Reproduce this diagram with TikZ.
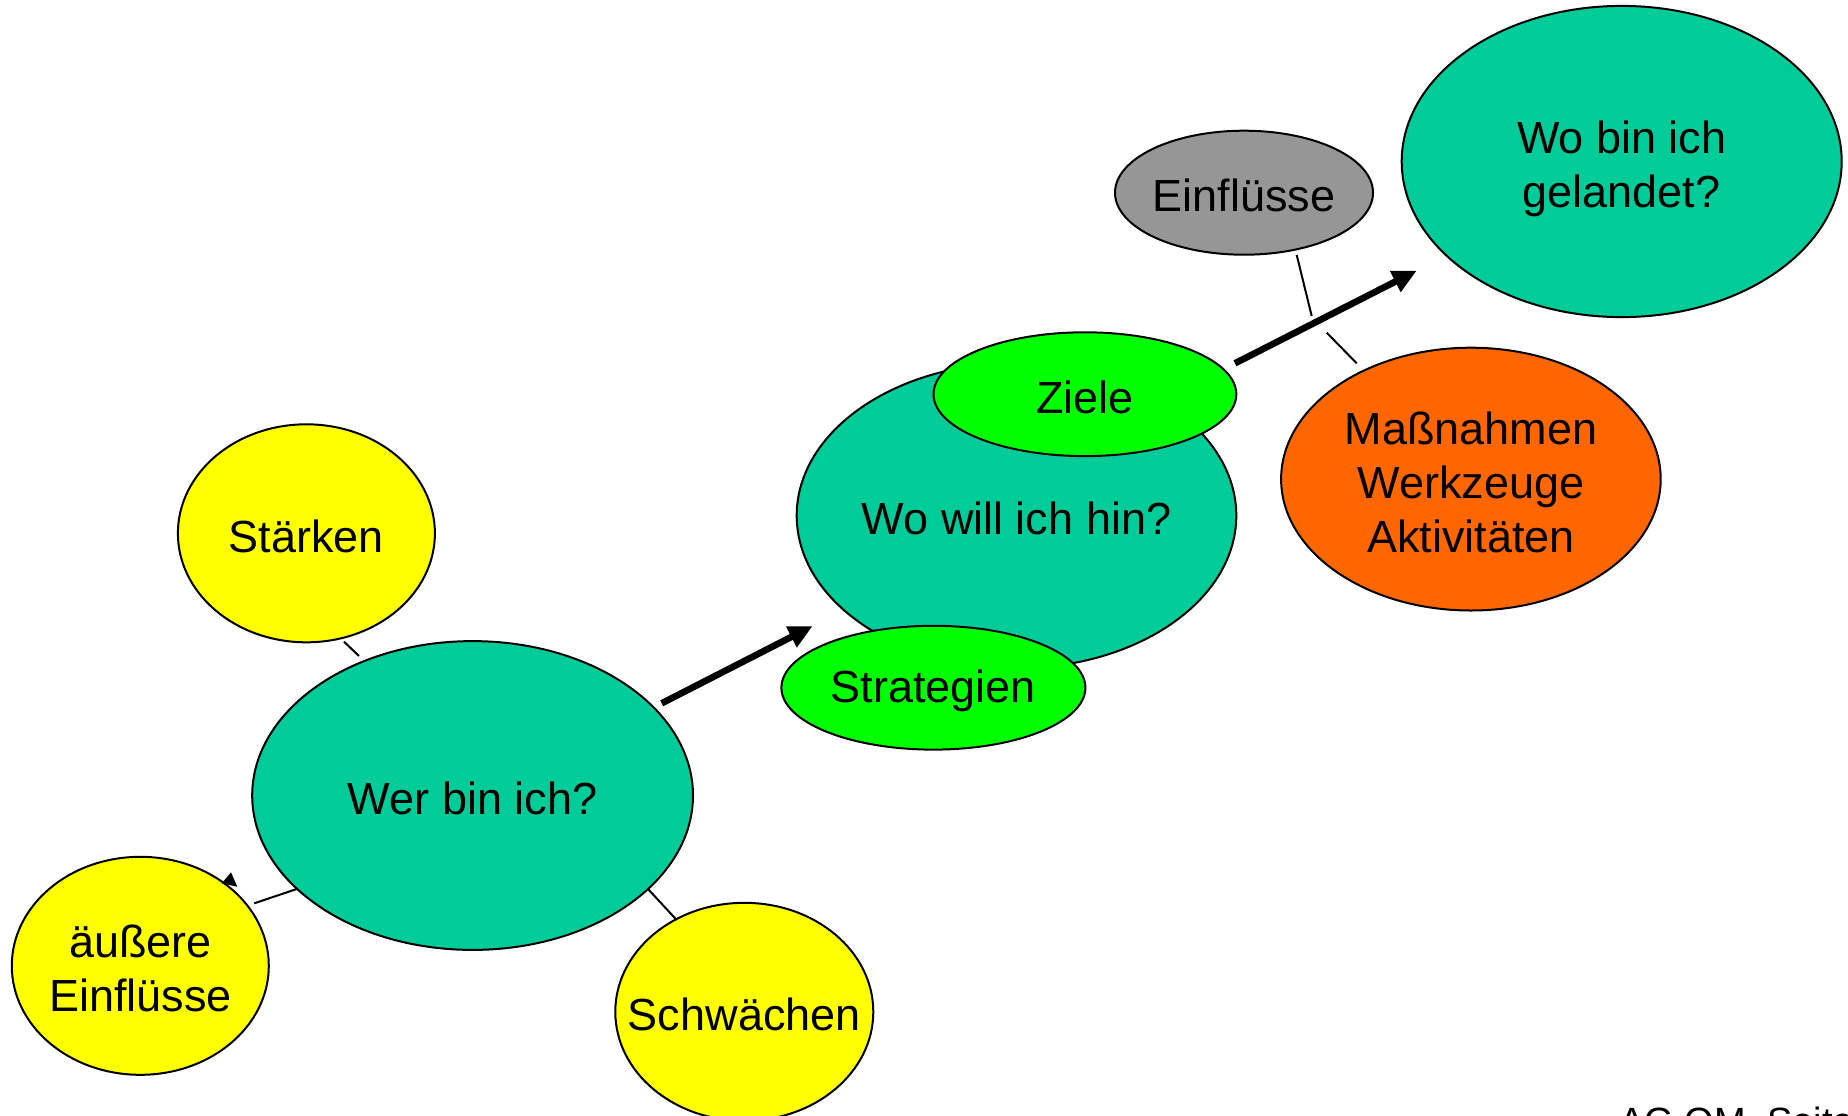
\documentclass[tikz,border=0pt]{standalone}
\usepackage{fontspec}
\setmainfont{Liberation Sans}
\usetikzlibrary{shapes.geometric,arrows.meta}
\definecolor{tealc}{RGB}{0,204,153}
\definecolor{greyc}{RGB}{150,150,150}
\definecolor{greenc}{RGB}{0,255,0}
\definecolor{orangec}{RGB}{255,102,0}
\definecolor{yellowc}{RGB}{255,255,0}
\begin{document}
\begin{tikzpicture}[x=0.5pt,y=-0.5pt,
  ell/.style={ellipse,draw=black,line width=1pt,inner sep=0pt},
  txt/.style={align=center,inner sep=0pt,yshift=-1.5pt,font=\fontsize{22.5pt}{27pt}\selectfont},
  conn/.style={line width=1pt},
  bigarrow/.style={line width=3.3pt,-{Triangle[length=12pt,width=11pt]}}]
\useasboundingbox (0,0) rectangle (1848,1115);
\clip (0,0) rectangle (1848,1115);
% nodes
\node[ell,fill=tealc,minimum width=220pt,minimum height=155.6pt,label={[txt,yshift=-2pt]center:Wo bin ich\\gelandet?}] (gel) at (1621.7,161.5) {};
\node[ell,fill=greyc,minimum width=129pt,minimum height=62pt,label={[txt]center:Einflüsse}] (einf) at (1244,192.7) {};
\node[ell,fill=tealc,minimum width=219.8pt,minimum height=152.6pt,label={[txt]center:Wo will ich hin?}] (hin) at (1016.5,515.6) {};
\node[ell,fill=greenc,minimum width=151.4pt,minimum height=61.9pt,label={[txt]center:Ziele}] (ziele) at (1084.9,394.2) {};
\node[ell,fill=greenc,minimum width=152pt,minimum height=61.9pt,label={[txt]center:Strategien}] (strat) at (933.4,687.7) {};
\node[ell,fill=orangec,minimum width=189.8pt,minimum height=131.4pt,label={[txt]center:Maßnahmen\\Werkzeuge\\Aktivitäten}] (mass) at (1470.9,479.1) {};
\node[ell,fill=yellowc,minimum width=128.5pt,minimum height=109pt,label={[txt]center:Stärken}] (staerken) at (306.4,533.3) {};
\node[ell,fill=tealc,minimum width=220.4pt,minimum height=154.4pt,label={[txt]center:Wer bin ich?}] (wer) at (472.6,795.5) {};
\node[ell,fill=yellowc,minimum width=128.5pt,minimum height=109pt,label={[txt]center:äußere\\Einflüsse}] (aeuss) at (140.3,965.8) {};
\node[ell,fill=yellowc,minimum width=129pt,minimum height=109pt,label={[txt]center:Schwächen}] (schw) at (744.3,1011.8) {};
\node[anchor=base west,inner sep=0pt,font=\fontsize{19pt}{21pt}\selectfont] (foot) at (1619,1134) {AG OM, Seite};
% connector end points
\coordinate (a1s) at (661.7,703.3);
\coordinate (a1e) at (812.7,626);
\coordinate (a2s) at (1235,363.3);
\coordinate (a2e) at (1416.7,270.7);
\coordinate (e1s) at (1296.7,255);
\coordinate (e1e) at (1311.7,316);
\coordinate (m1s) at (1326.7,332.7);
\coordinate (m1e) at (1356.7,363.3);
\coordinate (st1) at (344,641.7);
\coordinate (st2) at (359,656);
\coordinate (ae1) at (254.3,903.3);
\coordinate (ae2) at (296.7,889);
\coordinate (sw1) at (648.3,889.3);
\coordinate (sw2) at (676.7,920);
% connectors
\draw[bigarrow] (a1s) -- (a1e);
\draw[bigarrow] (a2s) -- (a2e);
\draw[conn] (e1s) -- (e1e);
\draw[conn] (m1s) -- (m1e);
\draw[conn] (st1) -- (st2);
\draw[conn] (ae1) -- (ae2);
\draw[conn] (sw1) -- (sw2);
\fill (221.7,883.3) -- (237.3,886.7) -- (231,872.3) -- cycle;
\end{tikzpicture}
\end{document}
